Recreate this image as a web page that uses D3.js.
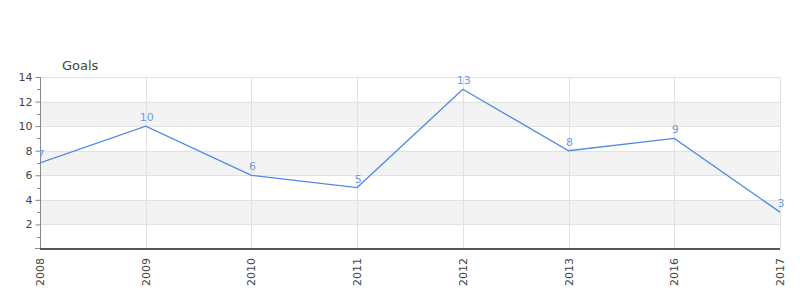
<!DOCTYPE html>
<html>
<head>
<meta charset="utf-8">
<script src="https://cdn.jsdelivr.net/npm/d3@7"></script>
<style>
  body { margin: 0; background: #fff; }
  text { font-family: "DejaVu Sans", sans-serif; }
</style>
</head>
<body>
<div id="chart"></div>
<script>
// chart data
var years = ["2008", "2009", "2010", "2011", "2012", "2013", "2016", "2017"];
var goals = [7, 10, 6, 5, 13, 8, 9, 3];
var yTicks = [2, 4, 6, 8, 10, 12, 14];
var minorTicks = [1, 3, 5, 7, 9, 11, 13];
var bandRanges = [[2, 4], [6, 8], [10, 12]];

var svgWidth = 800;
var svgHeight = 300;
var margin = { top: 77, right: 20, bottom: 51, left: 40 };
var chartWidth = svgWidth - margin.left - margin.right;
var chartHeight = svgHeight - margin.top - margin.bottom;

var svg = d3.select("#chart")
  .append("svg")
  .attr("width", svgWidth)
  .attr("height", svgHeight);

var chartGroup = svg.append("g")
  .attr("transform", `translate(${margin.left}, ${margin.top})`);

var xScale = d3.scalePoint()
  .domain(years)
  .range([0, chartWidth]);

var yScale = d3.scaleLinear()
  .domain([0, 14])
  .range([chartHeight, 0]);

// alternating bands
chartGroup.selectAll(".band")
  .data(bandRanges)
  .enter().append("rect")
  .attr("x", 0)
  .attr("width", chartWidth)
  .attr("y", d => yScale(d[1]))
  .attr("height", d => yScale(d[0]) - yScale(d[1]))
  .attr("fill", "#f3f3f3");

// grid lines
chartGroup.selectAll(".hgrid")
  .data(yTicks)
  .enter().append("line")
  .attr("x1", 0).attr("x2", chartWidth)
  .attr("y1", d => Math.round(yScale(d)) + 0.5)
  .attr("y2", d => Math.round(yScale(d)) + 0.5)
  .attr("stroke", "#e2e2e2");

chartGroup.selectAll(".vgrid")
  .data(years)
  .enter().append("line")
  .attr("x1", d => Math.round(xScale(d)) + 0.5)
  .attr("x2", d => Math.round(xScale(d)) + 0.5)
  .attr("y1", 0).attr("y2", chartHeight)
  .attr("stroke", "#e2e2e2");

// y axis
var leftAxis = d3.axisLeft(yScale)
  .tickValues(yTicks)
  .tickSize(5)
  .tickPadding(3);
var yAxisG = chartGroup.append("g")
  .attr("transform", "translate(0.5,0)")
  .call(leftAxis);
yAxisG.select(".domain").attr("stroke", "#888").attr("d", "M0," + chartHeight + "V0");
yAxisG.selectAll(".tick line").attr("stroke", "#888");
yAxisG.selectAll(".tick text")
  .attr("fill", "#444")
  .style("font-size", "11px")
  .style("font-family", "DejaVu Sans, sans-serif");

// minor ticks
chartGroup.selectAll(".minor")
  .data(minorTicks)
  .enter().append("line")
  .attr("x1", -3).attr("x2", 0)
  .attr("y1", d => Math.round(yScale(d)) + 0.5)
  .attr("y2", d => Math.round(yScale(d)) + 0.5)
  .attr("stroke", "#888");

chartGroup.append("line")
  .attr("x1", -5).attr("x2", 0)
  .attr("y1", chartHeight - 0.5).attr("y2", chartHeight - 0.5)
  .attr("stroke", "#888");

// bottom axis lines
chartGroup.append("line")
  .attr("x1", 0).attr("x2", chartWidth)
  .attr("y1", chartHeight - 0.5).attr("y2", chartHeight - 0.5)
  .attr("stroke", "#555");
chartGroup.append("line")
  .attr("x1", 0).attr("x2", chartWidth)
  .attr("y1", chartHeight + 0.5).attr("y2", chartHeight + 0.5)
  .attr("stroke", "#e02020");

// x labels rotated
chartGroup.selectAll(".xlabel")
  .data(years)
  .enter().append("text")
  .attr("transform", d => `translate(${xScale(d) + 4}, ${chartHeight + 9}) rotate(-90)`)
  .attr("text-anchor", "end")
  .attr("fill", "#444")
  .style("font-size", "11px")
  .text(d => d);

// title
chartGroup.append("text")
  .attr("x", 22)
  .attr("y", -7)
  .attr("fill", "#444")
  .style("font-size", "13px")
  .text("Goals");

// clip for line and labels
svg.append("defs").append("clipPath")
  .attr("id", "plotclip")
  .append("rect")
  .attr("x", 0).attr("y", -20)
  .attr("width", chartWidth + 6).attr("height", chartHeight + 20);

var plot = chartGroup.append("g").attr("clip-path", "url(#plotclip)");

var lineGen = d3.line()
  .x((d, i) => xScale(years[i]))
  .y(d => yScale(d));

plot.append("path")
  .datum(goals)
  .attr("d", lineGen)
  .attr("fill", "none")
  .attr("stroke", "#5088e6")
  .attr("stroke-width", 1.3);

plot.selectAll(".vlabel")
  .data(goals)
  .enter().append("text")
  .attr("x", (d, i) => xScale(years[i]) + 1)
  .attr("y", d => yScale(d) - 5)
  .attr("text-anchor", "middle")
  .attr("fill", "#6b9de8")
  .style("font-size", "11px")
  .text(d => d);
</script>
</body>
</html>
